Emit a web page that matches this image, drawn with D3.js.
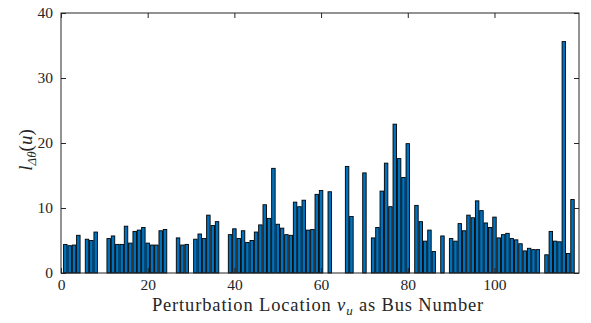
<!DOCTYPE html>
<html>
<head>
<meta charset="utf-8">
<script src="https://cdn.jsdelivr.net/npm/d3@7"></script>
<style>
  html, body { margin: 0; padding: 0; background: #fff; }
  svg { display: block; }
  text { font-family: "Liberation Serif", "DejaVu Serif", serif; fill: #262626; }
</style>
</head>
<body>
<svg id="chart" width="591" height="323"></svg>
<script>
// Bus numbers 1..118 and the index value at each perturbation location (0 = not evaluated)
const buses = d3.range(1, 119);
const values = [
  4.4, 4.2, 4.3, 5.8, 0, 5.2, 5.0, 6.3, 0, 0,
  5.3, 5.7, 4.4, 4.4, 7.2, 4.6, 6.4, 6.6, 7.0, 4.6,
  4.3, 4.3, 6.5, 6.7, 0, 0, 5.4, 4.3, 4.4, 0,
  5.2, 6.0, 5.3, 8.9, 7.3, 7.9, 0, 0, 5.9, 6.8,
  5.3, 6.5, 4.7, 5.0, 6.3, 7.4, 10.5, 8.4, 16.1, 7.5,
  6.9, 5.9, 5.8, 10.9, 10.2, 11.2, 6.6, 6.7, 12.1, 12.7,
  0, 12.5, 0, 0, 0, 16.4, 8.7, 0, 0, 15.4,
  0, 5.4, 7.0, 12.6, 16.9, 10.2, 22.9, 17.6, 14.7, 19.9,
  0, 10.4, 7.9, 4.9, 6.6, 3.3, 0, 5.7, 0, 5.3,
  4.9, 7.6, 6.5, 8.9, 8.5, 11.1, 9.6, 7.7, 7.0, 8.6,
  5.4, 5.9, 6.1, 5.3, 5.1, 4.5, 3.4, 3.8, 3.6, 3.6,
  0, 2.8, 6.4, 4.9, 4.8, 35.6, 3.0, 11.3
];
const xTicks = [0, 20, 40, 60, 80, 100];
const yTicks = [0, 10, 20, 30, 40];

const W = 591, H = 323;
const m = { top: 13, right: 12, bottom: 50, left: 61 };
const iw = W - m.left - m.right, ih = H - m.top - m.bottom;

const svg = d3.select("#chart");
const g = svg.append("g").attr("transform", `translate(${m.left},${m.top})`);

const x = d3.scaleLinear().domain([0, 119.5]).range([0, iw]);
const y = d3.scaleLinear().domain([0, 40]).range([ih, 0]);
const bw = (x(1) - x(0)) * 0.8;

// bars
g.selectAll("rect.bar")
  .data(buses.map((b, i) => ({ bus: b, v: values[i] })).filter(d => d.v > 0))
  .join("rect")
  .attr("class", "bar")
  .attr("x", d => x(d.bus) - bw / 2)
  .attr("y", d => y(d.v))
  .attr("width", bw)
  .attr("height", d => y(0) - y(d.v))
  .attr("fill", "#0072BD")
  .attr("stroke", "#000")
  .attr("stroke-width", 0.9);

const axisColor = "#262626";
const tickLen = 5;

// box
g.append("rect")
  .attr("x", 0).attr("y", 0).attr("width", iw).attr("height", ih)
  .attr("fill", "none").attr("stroke", axisColor).attr("stroke-width", 1);

// bottom axis (inward ticks)
const xAxis = d3.axisBottom(x).tickValues(xTicks).tickSizeInner(-tickLen).tickSizeOuter(0).tickPadding(6);
const gx = g.append("g").attr("transform", `translate(0,${ih})`).call(xAxis);
// top ticks
const gxt = g.append("g").call(d3.axisTop(x).tickValues(xTicks).tickSizeInner(-tickLen).tickSizeOuter(0).tickFormat(""));
// left axis
const yAxis = d3.axisLeft(y).tickValues(yTicks).tickSizeInner(-tickLen).tickSizeOuter(0).tickPadding(8);
const gy = g.append("g").call(yAxis);
// right ticks
const gyr = g.append("g").attr("transform", `translate(${iw},0)`)
  .call(d3.axisRight(y).tickValues(yTicks).tickSizeInner(-tickLen).tickSizeOuter(0).tickFormat(""));

[gx, gxt, gy, gyr].forEach(a => {
  a.select(".domain").remove();
  a.selectAll("line").attr("stroke", axisColor);
  a.selectAll("text").style("font-size", "15.5px").attr("fill", axisColor)
    .style("font-family", "'Liberation Serif', serif");
});
gx.selectAll("text").attr("dy", "0.71em");

// x-axis title
const xl = svg.append("text")
  .attr("x", m.left + iw / 2 - 2).attr("y", 311)
  .attr("text-anchor", "middle")
  .style("font-size", "18.5px")
  .style("letter-spacing", "0.85px");
xl.append("tspan").text("Perturbation Location ");
xl.append("tspan").style("font-style", "italic").text("v");
xl.append("tspan").style("font-style", "italic").style("font-size", "13px").attr("dy", 4).text("u");
xl.append("tspan").attr("dy", -4).text(" as Bus Number");

// y-axis title
const yl = svg.append("text")
  .attr("transform", `translate(32,${m.top + ih / 2 + 7}) rotate(-90)`)
  .attr("text-anchor", "middle")
  .style("font-size", "19px");
yl.append("tspan").style("font-style", "italic").text("l");
yl.append("tspan").style("font-style", "italic").style("font-size", "13px").attr("dy", 4).text("Δθ");
yl.append("tspan").attr("dy", -4).text("(");
yl.append("tspan").style("font-style", "italic").text("u");
yl.append("tspan").text(")");
</script>
</body>
</html>
